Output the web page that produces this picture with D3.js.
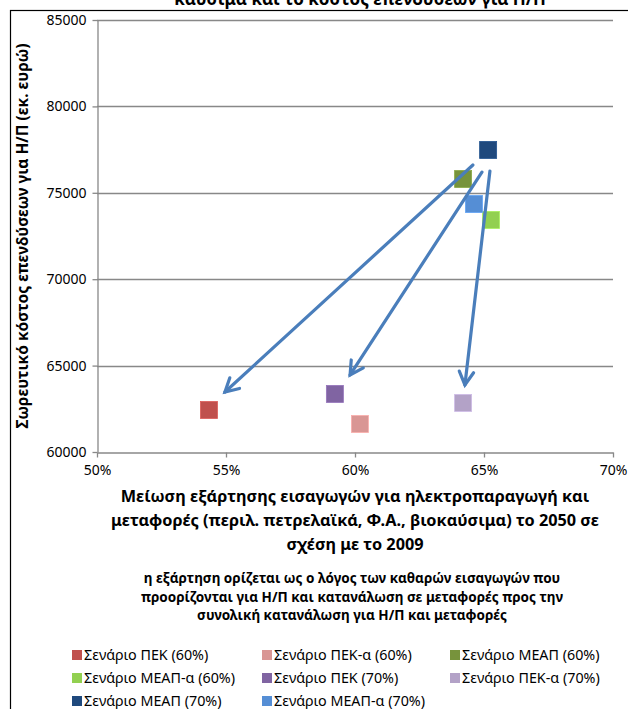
<!DOCTYPE html>
<html>
<head>
<meta charset="utf-8">
<script src="https://cdn.jsdelivr.net/npm/d3@7"></script>
<style>
  body { margin: 0; background: #fff; }
  svg { display: block; font-family: "Noto Sans", sans-serif; }
</style>
</head>
<body>
<div id="chart"></div>
<script>
// scenario data
const scenarios = ['Σενάριο ΠΕΚ (60%)', 'Σενάριο ΠΕΚ-α (60%)', 'Σενάριο ΜΕΑΠ (60%)',
    'Σενάριο ΜΕΑΠ-α (60%)', 'Σενάριο ΠΕΚ (70%)', 'Σενάριο ΠΕΚ-α (70%)',
    'Σενάριο ΜΕΑΠ (70%)', 'Σενάριο ΜΕΑΠ-α (70%)'];
const dependencyCut = [0.5434, 0.6019, 0.6419, 0.6527, 0.5922, 0.6419, 0.6516, 0.6461];
const investCost = [62430, 61620, 75800, 73430, 63360, 62840, 77480, 74350];
const scenarioColors = ['#C0504D', '#D99694', '#77933C', '#92D050', '#8064A2', '#B3A2C7', '#1F497D', '#558ED5'];

const xTicks = [0.5, 0.55, 0.6, 0.65, 0.7];
const yTicks = [60000, 65000, 70000, 75000, 80000, 85000];

// annotation arrows (start -> end, in data units)
const arrowFromX = [0.6457, 0.6492, 0.6523];
const arrowFromY = [76610, 76200, 76260];
const arrowToX = [0.5496, 0.5981, 0.6426];
const arrowToY = [63470, 64460, 63880];

const titleText = 'καύσιμα και το κόστος επενδύσεων για Η/Π';
const yTitle = 'Σωρευτικό κόστος επενδύσεων για Η/Π (εκ. ευρώ)';
const xTitle = ['Μείωση εξάρτησης εισαγωγών για ηλεκτροπαραγωγή και',
    'μεταφορές (περιλ. πετρελαϊκά, Φ.Α., βιοκαύσιμα) το 2050 σε',
    'σχέση με το 2009'];
const noteLines = ['η εξάρτηση ορίζεται ως ο λόγος των καθαρών εισαγωγών που',
    'προορίζονται για Η/Π και κατανάλωση σε μεταφορές προς την',
    'συνολική κατανάλωση για Η/Π και μεταφορές'];

const width = 628, height = 709;
const margin = { left: 97, right: 15, top: 20, bottom: 257 };

const svg = d3.select('#chart').append('svg')
    .attr('width', width)
    .attr('height', height);

// chart frame (extends past the window on the right and bottom)
svg.append('rect')
    .attr('x', 10.5).attr('y', 10.5)
    .attr('width', 640).attr('height', 720)
    .attr('fill', 'none')
    .attr('stroke', '#000')
    .attr('stroke-width', 1.2);

// title, cut off above the frame as in the source
svg.append('text')
    .attr('x', 360).attr('y', 5)
    .attr('text-anchor', 'middle')
    .style('font-size', '17px')
    .style('font-weight', 'bold')
    .text(titleText);

const x = d3.scaleLinear().domain([0.5, 0.7]).range([margin.left, width - margin.right]);
const y = d3.scaleLinear().domain([60000, 85000]).range([height - margin.bottom, margin.top]);

// gridlines
svg.append('g')
    .selectAll('line')
    .data(yTicks.filter(function (d) { return d > 60000; }))
    .enter()
    .append('line')
    .attr('x1', x(0.5)).attr('x2', x(0.7))
    .attr('y1', function (d) { return Math.round(y(d)) + 0.5; })
    .attr('y2', function (d) { return Math.round(y(d)) + 0.5; })
    .style('stroke', '#888')
    .style('stroke-width', 1.3);

// axes
const yAxis = svg.append('g')
    .attr('transform', 'translate(' + (x(0.5) + 0.5) + ',0)')
    .call(d3.axisLeft(y).tickValues(yTicks).tickFormat(d3.format('d')).tickSize(5).tickSizeOuter(0).tickPadding(6));
const xAxis = svg.append('g')
    .attr('transform', 'translate(0,' + (Math.round(y(60000)) + 0.5) + ')')
    .call(d3.axisBottom(x).tickValues(xTicks).tickFormat(d3.format('.0%')).tickSize(5).tickSizeOuter(0).tickPadding(8));

[yAxis, xAxis].forEach(function (ax) {
    ax.select('.domain').style('stroke', '#888').style('stroke-width', 1.3);
    ax.selectAll('.tick line').style('stroke', '#888').style('stroke-width', 1.3);
    ax.selectAll('.tick text')
        .style('font-size', '14px')
        .style('fill', '#000')
        .style('font-family', '"Noto Sans", sans-serif');
});

// axis titles
svg.append('text')
    .attr('transform', 'translate(28,' + ((y(60000) + y(85000)) / 2) + ') rotate(-90)')
    .attr('text-anchor', 'middle')
    .style('font-size', '15.5px')
    .style('font-weight', 'bold')
    .text(yTitle);

svg.append('g').selectAll('text')
    .data(xTitle)
    .enter()
    .append('text')
    .attr('x', 355)
    .attr('y', function (d, i) { return 502 + i * 24; })
    .attr('text-anchor', 'middle')
    .style('font-size', '16.3px')
    .style('font-weight', 'bold')
    .text(function (d) { return d; });

svg.append('g').selectAll('text')
    .data(noteLines)
    .enter()
    .append('text')
    .attr('x', 352)
    .attr('y', function (d, i) { return 583 + i * 18.5; })
    .attr('text-anchor', 'middle')
    .style('font-size', '13.5px')
    .style('font-weight', 'bold')
    .text(function (d) { return d; });

// markers
const size = 17;
svg.append('g').selectAll('rect')
    .data(scenarios)
    .enter()
    .append('rect')
    .attr('x', function (d, i) { return x(dependencyCut[i]) - size / 2; })
    .attr('y', function (d, i) { return y(investCost[i]) - size / 2; })
    .attr('width', size)
    .attr('height', size)
    .attr('fill', function (d, i) { return scenarioColors[i]; })
    .attr('stroke', function (d, i) { return d3.color(scenarioColors[i]).brighter(0.4); })
    .attr('stroke-width', 0.8);

// arrows
const arrowG = svg.append('g')
    .style('stroke', '#4A7EBB')
    .style('stroke-width', 3.2)
    .style('stroke-linecap', 'round')
    .style('fill', 'none');
arrowFromX.forEach(function (d, i) {
    let x1 = x(arrowFromX[i]), y1 = y(arrowFromY[i]);
    let x2 = x(arrowToX[i]), y2 = y(arrowToY[i]);
    let ang = Math.atan2(y2 - y1, x2 - x1);
    let head = 15, spread = 0.5;
    arrowG.append('line')
        .attr('x1', x1).attr('y1', y1)
        .attr('x2', x2).attr('y2', y2);
    arrowG.append('path')
        .style('stroke-linejoin', 'miter')
        .attr('d', 'M' + (x2 - head * Math.cos(ang - spread)) + ',' + (y2 - head * Math.sin(ang - spread)) +
            'L' + x2 + ',' + y2 +
            'L' + (x2 - head * Math.cos(ang + spread)) + ',' + (y2 - head * Math.sin(ang + spread)));
});

// legend
const colX = [72, 262, 450];
const legend = svg.append('g').selectAll('g')
    .data(scenarios)
    .enter()
    .append('g')
    .attr('transform', function (d, i) {
        return 'translate(' + colX[i % 3] + ',' + (655 + Math.floor(i / 3) * 23) + ')';
    });
legend.append('rect')
    .attr('x', 0).attr('y', -5)
    .attr('width', 10).attr('height', 10)
    .attr('fill', function (d, i) { return scenarioColors[i]; });
legend.append('text')
    .attr('x', 12).attr('y', 0)
    .attr('dy', '0.35em')
    .style('font-size', '14.3px')
    .text(function (d) { return d; });
</script>
</body>
</html>
